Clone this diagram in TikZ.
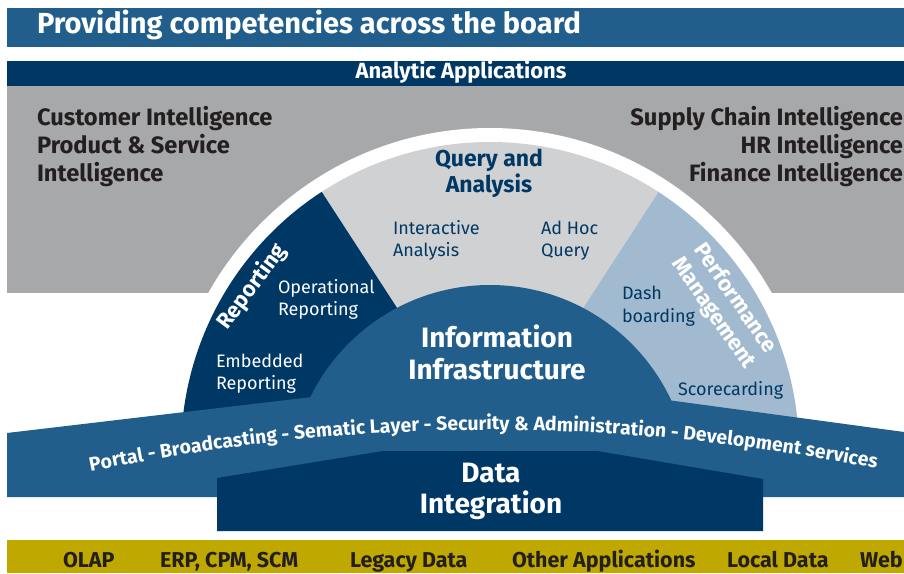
\documentclass[tikz,border=0pt]{standalone}
\usepackage{fontspec}
\setmainfont{Fira Sans}
\usetikzlibrary{decorations.text}
\definecolor{medblue}{RGB}{33,94,139}
\definecolor{navy}{RGB}{0,56,101}
\definecolor{grayc}{RGB}{167,168,170}
\definecolor{lgray}{RGB}{208,209,211}
\definecolor{lblue}{RGB}{161,186,208}
\definecolor{yel}{RGB}{191,168,0}
\definecolor{dark}{RGB}{35,31,32}
\newcommand{\myfs}[1]{\fontsize{#1}{#1}\selectfont}
\begin{document}
\begin{tikzpicture}[x=1pt,y=1pt,
  tx/.style={inner sep=0pt, outer sep=0pt},
  big/.style={tx, font=\myfs{28}\bfseries},
  side/.style={tx, font=\myfs{23.7}\bfseries, text=dark},
  lbl/.style={tx, font=\myfs{18}},
  bot/.style={tx, font=\myfs{21.5}\bfseries, text=dark, anchor=base west}]
\useasboundingbox (0,0) rectangle (904,573);
\fill[white] (0,0) rectangle (904,573);
% bars
\fill[medblue] (7,526) rectangle (904,565);
\fill[navy] (7,487) rectangle (904,512);
\fill[grayc] (7,280) rectangle (904,487);
% white ring
\fill[white] (490,122) circle (323);
% sectors
\coordinate (c) at (490,122);
\fill[lblue] (c) -- ++(0:309) arc (0:57:309) -- cycle;
\fill[lgray] (c) -- ++(57:309) arc (57:123:309) -- cycle;
\fill[navy] (c) -- ++(123:309) arc (123:180:309) -- cycle;
% dome
\fill[medblue] (690,88) arc (0:180:200) -- cycle;
% band
\fill[medblue] (7,140) -- (490,197) -- (904,141) -- (904,76) -- (7,76) -- cycle;
% data integration box
\fill[navy] (217,42) -- (217,95) -- (383,122) -- (597,122) -- (763,94) -- (763,42) -- cycle;
% bottom bar
\fill[yel] (7,0) rectangle (904,33);

% texts
\node[tx, font=\myfs{29}\bfseries, text=white, anchor=base west] (title) at (37,539) {Providing competencies across the board};
\node[tx, font=\myfs{22}\bfseries, text=white, anchor=base] (aa) at (461,494) {Analytic Applications};

\node[side, anchor=base west] (l1) at (37,447) {Customer Intelligence};
\node[side, anchor=base west] (l2) at (37,419) {Product \& Service};
\node[side, anchor=base west] (l3) at (37,391) {Intelligence};
\node[side, anchor=base east] (r1) at (903,447) {Supply Chain Intelligence};
\node[side, anchor=base east] (r2) at (903,419) {HR Intelligence};
\node[side, anchor=base east] (r3) at (903,391) {Finance Intelligence};

\node[tx, font=\myfs{23}\bfseries, text=navy, anchor=base] (q1) at (489,406) {Query and};
\node[tx, font=\myfs{23}\bfseries, text=navy, anchor=base] (q2) at (489,380) {Analysis};
\node[lbl, text=navy, anchor=base west] (ia1) at (393,338) {Interactive};
\node[lbl, text=navy, anchor=base west] (ia2) at (393,316) {Analysis};
\node[lbl, text=navy, anchor=base west] (ah1) at (541,338) {Ad Hoc};
\node[lbl, text=navy, anchor=base west] (ah2) at (541,316) {Query};

\node[lbl, text=white, anchor=base west] (op1) at (278,279) {Operational};
\node[lbl, text=white, anchor=base west] (op2) at (278,257) {Reporting};
\node[lbl, text=white, anchor=base west] (em1) at (216,205) {Embedded};
\node[lbl, text=white, anchor=base west] (em2) at (216,183) {Reporting};
\node[tx, font=\myfs{22}\bfseries, text=white, rotate=53.6] (rep) at (252,286) {Reporting};

\node[lbl, text=navy, anchor=base west] (db1) at (622,273) {Dash};
\node[lbl, text=navy, anchor=base west] (db2) at (622,250) {boarding};
\node[lbl, text=navy, anchor=base west] (sc) at (678,177) {Scorecarding};
\node[tx, font=\fontsize{22}{26}\selectfont\bfseries, text=white, align=center, rotate=-55] (perf) at (724,267) {Performance\\Management};

\node[big, text=white, anchor=base] (ii1) at (497,225) {Information};
\node[big, text=white, anchor=base] (ii2) at (497,193) {Infrastructure};
\node[big, text=white, anchor=base] (di1) at (491,91) {Data};
\node[big, text=white, anchor=base] (di2) at (491,60) {Integration};

\path[decorate, decoration={text along path, text align=center, text color=white,
  text={|\myfs{19.4}\bfseries|Portal - Broadcasting - Sematic Layer - Security {\&} Administration - Development services}}]
  (88,101) .. controls (351,156) and (615,157) .. (878,104);

\node[bot] (b1) at (63,6) {OLAP};
\node[bot] (b2) at (160,6) {ERP, CPM, SCM};
\node[bot] (b3) at (350,6) {Legacy Data};
\node[bot] (b4) at (512,6) {Other Applications};
\node[bot] (b5) at (727,6) {Local Data};
\node[bot] (b6) at (860,6) {Web};
\end{tikzpicture}
\end{document}
